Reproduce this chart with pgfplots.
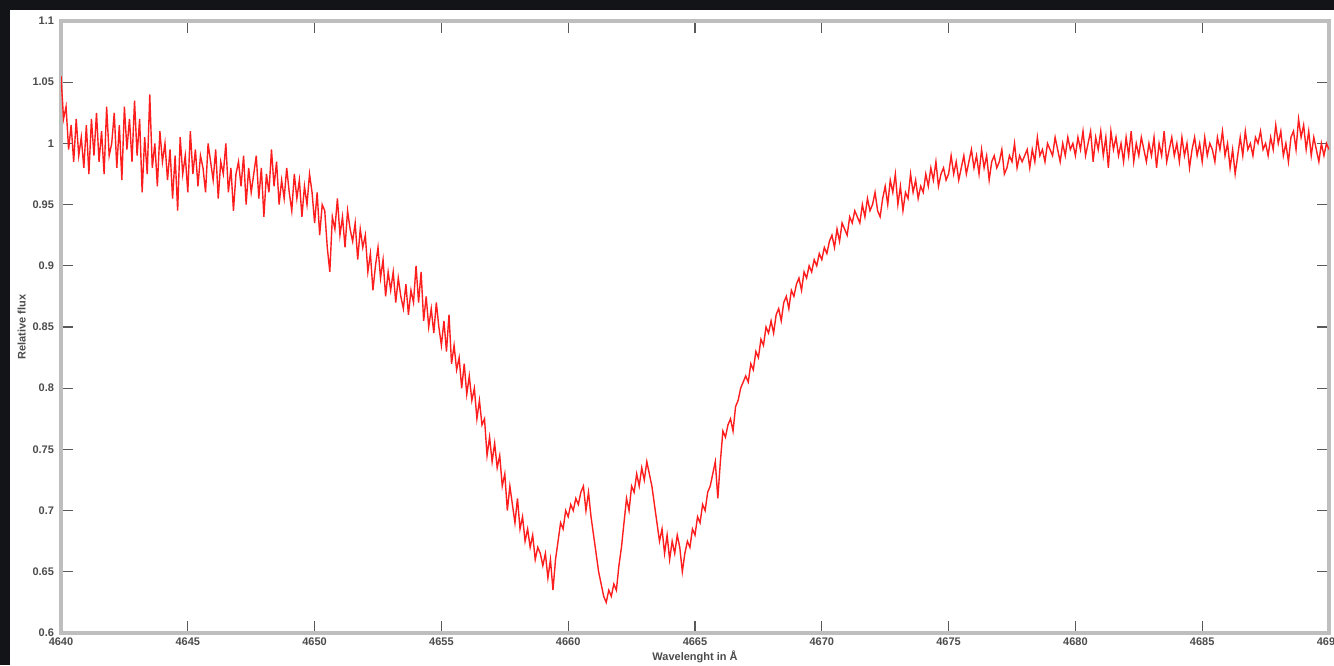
\documentclass[border=0pt]{standalone}
\usepackage{pgfplots}
\pgfplotsset{compat=1.18}
\usepackage{fontspec}
\setmainfont{Liberation Sans}
\definecolor{bgdark}{RGB}{18,20,24}
\definecolor{axgray}{RGB}{190,190,190}
\definecolor{specred}{RGB}{255,30,30}
\begin{document}
\begin{tikzpicture}
\useasboundingbox (0,0) rectangle (667pt,332.5pt);
\fill[bgdark] (0,0) rectangle (667pt,332.5pt);
\fill[white] (5pt,0) rectangle (667pt,327.5pt);
\begin{axis}[
  at={(30.5pt,16pt)}, anchor=south west,
  scale only axis, width=634pt, height=306pt,
  xmin=4640, xmax=4690, ymin=0.6, ymax=1.1,
  xtick={4640,4645,...,4690},
  ytick={0.6,0.65,0.7,0.75,0.8,0.85,0.9,0.95,1,1.05,1.1},
  yticklabels={0.6,0.65,0.7,0.75,0.8,0.85,0.9,0.95,1,1.05,1.1},
  /pgf/number format/1000 sep={},
  /pgf/number format/assume math mode=true,
  tick align=inside, tick pos=both,
  major tick length=6pt,
  tick style={black!65, line width=0.6pt},
  axis line style={axgray, line width=1.8pt},
  ticklabel style={font=\fontsize{5.5}{6}\selectfont\bfseries, text=black!70},
  xticklabel style={yshift=1pt},
  xlabel={Wavelenght in Å},
  ylabel={Relative flux},
  label style={font=\fontsize{5.5}{6}\selectfont\bfseries, text=black!70},
  xlabel style={at={(axis description cs:0.5,-0.039)}, anchor=center},
  ylabel style={at={(axis description cs:-0.031,0.5)}, anchor=center},
  clip=true,
]
\addplot[specred, line width=0.7pt] table[row sep=\\, header=false, x expr=4640+0.1*\coordindex, y index=0]{
1.055\\1.02\\1.03\\0.995\\1.015\\0.985\\1.02\\0.99\\1.005\\0.98\\
1.015\\0.975\\1.02\\0.99\\1.025\\0.985\\1.01\\0.975\\1.03\\0.99\\
1.0\\1.025\\0.98\\1.015\\0.97\\1.03\\0.995\\1.02\\0.985\\1.035\\
0.99\\1.02\\0.96\\1.005\\0.975\\1.04\\0.98\\1.0\\0.965\\1.01\\
0.985\\1.0\\0.97\\0.995\\0.955\\0.99\\0.945\\1.005\\0.975\\0.99\\
0.96\\1.01\\0.975\\0.995\\0.965\\0.99\\0.98\\0.96\\1.0\\0.985\\
0.97\\0.995\\0.955\\0.985\\0.975\\1.0\\0.96\\0.98\\0.945\\0.975\\
0.985\\0.965\\0.99\\0.95\\0.98\\0.96\\0.975\\0.99\\0.955\\0.98\\
0.94\\0.975\\0.96\\0.995\\0.965\\0.985\\0.95\\0.97\\0.955\\0.98\\
0.96\\0.945\\0.975\\0.955\\0.97\\0.94\\0.965\\0.95\\0.975\\0.96\\
0.935\\0.96\\0.925\\0.95\\0.945\\0.915\\0.895\\0.94\\0.93\\0.955\\
0.925\\0.94\\0.915\\0.945\\0.93\\0.92\\0.935\\0.905\\0.93\\0.915\\
0.925\\0.895\\0.91\\0.88\\0.9\\0.915\\0.89\\0.905\\0.875\\0.895\\
0.88\\0.895\\0.87\\0.89\\0.875\\0.865\\0.885\\0.86\\0.88\\0.87\\
0.9\\0.87\\0.895\\0.855\\0.875\\0.85\\0.865\\0.845\\0.87\\0.85\\
0.835\\0.855\\0.83\\0.86\\0.82\\0.835\\0.815\\0.825\\0.8\\0.82\\
0.795\\0.81\\0.79\\0.8\\0.775\\0.79\\0.77\\0.775\\0.745\\0.76\\
0.74\\0.755\\0.735\\0.745\\0.72\\0.73\\0.7\\0.72\\0.705\\0.69\\
0.71\\0.685\\0.695\\0.675\\0.685\\0.67\\0.68\\0.66\\0.67\\0.665\\
0.655\\0.665\\0.645\\0.66\\0.635\\0.66\\0.675\\0.69\\0.685\\0.7\\
0.695\\0.705\\0.7\\0.71\\0.705\\0.715\\0.72\\0.7\\0.715\\0.695\\
0.68\\0.665\\0.65\\0.64\\0.63\\0.625\\0.635\\0.63\\0.64\\0.635\\
0.655\\0.67\\0.69\\0.71\\0.7\\0.72\\0.715\\0.73\\0.72\\0.735\\
0.725\\0.74\\0.73\\0.72\\0.705\\0.69\\0.675\\0.685\\0.665\\0.68\\
0.66\\0.675\\0.665\\0.68\\0.67\\0.65\\0.665\\0.675\\0.67\\0.685\\
0.68\\0.695\\0.69\\0.705\\0.7\\0.715\\0.72\\0.73\\0.74\\0.71\\
0.74\\0.765\\0.76\\0.77\\0.775\\0.765\\0.785\\0.79\\0.8\\0.805\\
0.81\\0.805\\0.82\\0.815\\0.83\\0.825\\0.84\\0.835\\0.85\\0.845\\
0.855\\0.845\\0.86\\0.865\\0.855\\0.87\\0.875\\0.865\\0.88\\0.875\\
0.885\\0.89\\0.88\\0.895\\0.89\\0.9\\0.895\\0.905\\0.9\\0.91\\
0.905\\0.915\\0.91\\0.92\\0.925\\0.915\\0.93\\0.92\\0.935\\0.93\\
0.925\\0.94\\0.935\\0.945\\0.94\\0.935\\0.95\\0.94\\0.955\\0.945\\
0.95\\0.96\\0.945\\0.94\\0.955\\0.965\\0.95\\0.97\\0.96\\0.975\\
0.95\\0.965\\0.945\\0.96\\0.955\\0.975\\0.96\\0.97\\0.955\\0.965\\
0.96\\0.975\\0.965\\0.98\\0.97\\0.985\\0.965\\0.975\\0.98\\0.97\\
0.975\\0.99\\0.975\\0.985\\0.97\\0.98\\0.99\\0.975\\0.985\\0.995\\
0.98\\0.99\\0.975\\0.995\\0.98\\0.99\\0.97\\0.985\\0.99\\0.98\\
0.985\\0.995\\0.975\\0.98\\0.99\\0.985\\1.0\\0.98\\0.99\\0.985\\
0.99\\0.995\\0.98\\0.995\\0.985\\1.005\\0.99\\0.995\\0.985\\1.0\\
0.995\\0.99\\1.005\\0.995\\0.985\\1.0\\0.99\\1.005\\0.995\\1.0\\
0.99\\1.005\\0.995\\1.01\\0.99\\1.0\\1.01\\0.985\\1.005\\0.995\\
1.01\\0.99\\1.005\\0.98\\1.01\\0.995\\1.005\\0.99\\1.0\\0.985\\
1.005\\0.99\\1.01\\0.985\\1.0\\0.99\\1.005\\0.995\\0.985\\1.0\\
0.99\\1.005\\0.98\\1.0\\0.99\\1.01\\0.985\\0.995\\1.005\\0.99\\
1.0\\0.985\\1.005\\0.99\\1.0\\0.98\\0.995\\1.005\\0.99\\1.0\\
0.985\\1.005\\0.99\\1.0\\0.995\\0.985\\1.005\\0.995\\1.01\\0.99\\
1.0\\0.98\\0.995\\0.975\\0.99\\1.005\\0.99\\1.01\\0.995\\1.0\\
0.99\\1.005\\1.0\\1.01\\0.995\\1.0\\0.99\\1.005\\0.995\\1.015\\
1.0\\1.01\\0.99\\1.0\\0.985\\1.005\\1.01\\0.995\\1.02\\1.005\\
1.015\\0.995\\1.01\\0.99\\1.005\\0.995\\0.985\\1.0\\0.99\\1.0\\
0.995\\
};
\end{axis}
\end{tikzpicture}
\end{document}
